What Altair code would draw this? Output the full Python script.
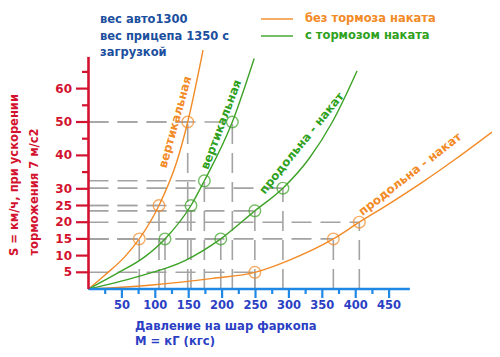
import altair as alt
import pandas as pd

# ---------------- data ----------------
# curves (x = M, kG ; y = S, km/h)
ov_x = [0, 24.7, 54.5, 76, 105.5, 132, 148.5, 171.4]          # orange, vertical
ov_y = [0, 4.2, 9.7, 15, 25, 38, 50, 71.5]
gv_x = [0, 44, 84.6, 114.5, 153.4, 173.4, 215.3, 248]          # green, vertical
gv_y = [0, 4.8, 9.7, 15, 25, 32.4, 50, 69]
gp_x = [0, 69.6, 144.5, 198, 249, 291, 330, 365, 402]          # green, longitudinal
gp_y = [0, 3.5, 8.5, 15, 23.4, 30.2, 39, 50, 65.3]
op_x = [0, 95, 186, 249, 300, 366.5, 405.4, 450, 500, 550, 604]  # orange, longitudinal
op_y = [0, 1.2, 3.2, 5.0, 8.6, 15, 20, 25.5, 32, 39, 47]

# marked points (circles)
ov_mx = [76, 105.5, 148.5]
ov_my = [15, 25, 50]
gv_mx = [114.5, 153.4, 173.4, 215.3]
gv_my = [15, 25, 32.4, 50]
gp_mx = [198, 249, 291]
gp_my = [15, 23.4, 30.2]
op_mx = [249, 366.5, 405.4]
op_my = [5, 15, 20]

x_major = [50, 100, 150, 200, 250, 300, 350, 400, 450]
x_minor = [25, 75, 125, 175, 225, 275, 325, 375, 425]
y_labeled = [5, 10, 15, 20, 25, 30, 40, 50, 60]
y_minor = [35, 45, 55, 65]
x_axis_end = 481
y_axis_end = 69.5

ORANGE = "#f28a26"
GREEN = "#3da227"
GREEN_T = "#2fa11c"
RED = "#d3122f"
BLUE_LINE = "#1f88e5"
BLUE_T = "#2c3fc4"
NAVY = "#1b4f9e"
GRAY = "#a3a3a3"
FONT = "DejaVu Sans"

# ---------------- scales (plot area = whole page area) ----------------
W, H = 484, 341
XS = alt.Scale(domain=[-120.5, 604.0], nice=False, zero=False)
YS = alt.Scale(domain=[-17.96, 84.13], nice=False, zero=False)


def X(f):
    return alt.X(f, type="quantitative", scale=XS, axis=None)


def Y(f):
    return alt.Y(f, type="quantitative", scale=YS, axis=None)


def px(v):  # page pixel -> chart pixel
    return alt.value(v - 8)


curves = pd.concat([
    pd.DataFrame({"x": ov_x, "y": ov_y, "s": "ov"}),
    pd.DataFrame({"x": gv_x, "y": gv_y, "s": "gv"}),
    pd.DataFrame({"x": gp_x, "y": gp_y, "s": "gp"}),
    pd.DataFrame({"x": op_x, "y": op_y, "s": "op"}),
])
marks = pd.concat([
    pd.DataFrame({"x": ov_mx, "y": ov_my, "s": "ov"}),
    pd.DataFrame({"x": gv_mx, "y": gv_my, "s": "gv"}),
    pd.DataFrame({"x": gp_mx, "y": gp_my, "s": "gp"}),
    pd.DataFrame({"x": op_mx, "y": op_my, "s": "op"}),
])
marks["zero"] = 0.0

color = alt.Color("s:N", legend=None,
                  scale=alt.Scale(domain=["ov", "gv", "gp", "op"],
                                  range=[ORANGE, GREEN, GREEN, ORANGE]))

guides_h = alt.Chart(marks).mark_rule(color=GRAY, strokeWidth=1.6, strokeDash=[20, 9]).encode(
    x=X("zero"), x2="x", y=Y("y"))
guides_v = alt.Chart(marks).mark_rule(color=GRAY, strokeWidth=1.6, strokeDash=[20, 9]).encode(
    x=X("x"), y=Y("zero"), y2="y")

lines = alt.Chart(curves).mark_line(strokeWidth=1.4, interpolate="monotone", clip=True).encode(
    x=X("x"), y=Y("y"), color=color, detail="s:N", order="x:Q")

circles = alt.Chart(marks).mark_point(shape="circle", size=135, filled=False, strokeWidth=1.4).encode(
    x=X("x"), y=Y("y"), color=color)

# axes
xaxis = alt.Chart(pd.DataFrame({"a": [0], "b": [x_axis_end], "z": [0]})).mark_rule(
    color=BLUE_LINE, strokeWidth=2.6).encode(x=X("a"), x2="b", y=Y("z"))
yaxis = alt.Chart(pd.DataFrame({"a": [0], "b": [y_axis_end], "z": [0]})).mark_rule(
    color=RED, strokeWidth=2.6).encode(y=Y("a"), y2="b", x=X("z"))

xt_major = alt.Chart(pd.DataFrame({"v": x_major})).mark_rule(color=BLUE_LINE, strokeWidth=2.2).encode(
    x=X("v"), y=px(290), y2=px(298))
xt_minor = alt.Chart(pd.DataFrame({"v": x_minor})).mark_rule(color=BLUE_LINE, strokeWidth=2.2).encode(
    x=X("v"), y=px(290), y2=px(294))
xlabels = alt.Chart(pd.DataFrame({"v": x_major})).mark_text(
    color=BLUE_T, font=FONT, fontWeight="bold", fontSize=11.5, baseline="middle", align="center").encode(
    x=X("v"), y=px(306), text="v:Q")

yt_major = alt.Chart(pd.DataFrame({"v": y_labeled})).mark_rule(color=RED, strokeWidth=2.2).encode(
    y=Y("v"), x=px(76), x2=px(88))
yt_minor = alt.Chart(pd.DataFrame({"v": y_minor})).mark_rule(color=RED, strokeWidth=2.2).encode(
    y=Y("v"), x=px(82), x2=px(88))
ylabels = alt.Chart(pd.DataFrame({"v": y_labeled})).mark_text(
    color=RED, font=FONT, fontWeight="bold", fontSize=12, baseline="middle", align="right").encode(
    y=Y("v"), x=px(72), text="v:Q")


def label(text, x, y, col, size=11.5, angle=0, align="left"):
    kw = dict(color=col, font=FONT, fontWeight="bold", fontSize=size, baseline="middle", align=align)
    if angle:
        kw["angle"] = angle
    return alt.Chart(pd.DataFrame({"t": [text]})).mark_text(**kw).encode(
        x=px(x), y=px(y), text="t:N")


texts = [
    label("вес авто1300", 100, 20, NAVY),
    label("вес прицепа 1350 с", 100, 37, NAVY),
    label("загрузкой", 100, 53, NAVY),
    label("без тормоза наката", 305, 19, ORANGE),
    label("с тормозом наката", 305, 36, GREEN_T),
    label("S = км/ч, при ускорении", 15, 175, RED, 11.5, 270, "center"),
    label("торможения 7 м/с2", 35, 192, RED, 11.5, 270, "center"),
    label("Давление на шар фаркопа", 135, 327, BLUE_T, 11.6),
    label("M = кГ (кгс)", 135, 342, BLUE_T, 11.6),
    label("вертикальная", 175, 122, ORANGE, 11.8, 285.5, "center"),
    label("вертикальная", 221, 124.5, GREEN_T, 11.8, 290.6, "center"),
    label("продольна - накат", 301.5, 143, GREEN_T, 11.8, 309, "center"),
    label("продольна - накат", 410, 174, ORANGE, 11.8, 322, "center"),
]

legend_o = alt.Chart(pd.DataFrame({"k": [1]})).mark_rule(color=ORANGE, strokeWidth=1.4).encode(
    x=px(261), x2=px(293), y=px(19))
legend_g = alt.Chart(pd.DataFrame({"k": [1]})).mark_rule(color=GREEN, strokeWidth=1.4).encode(
    x=px(261), x2=px(293), y=px(36))

chart = alt.layer(
    guides_h, guides_v, lines, circles,
    xaxis, yaxis, xt_major, xt_minor, yt_major, yt_minor, xlabels, ylabels,
    legend_o, legend_g, *texts
).properties(
    width=W, height=H, padding=0, autosize=alt.AutoSizeParams(type="none"),
    background="white"
).configure_view(stroke=None)

chart.save("out.html", embed_options={"renderer": "svg", "actions": False})
